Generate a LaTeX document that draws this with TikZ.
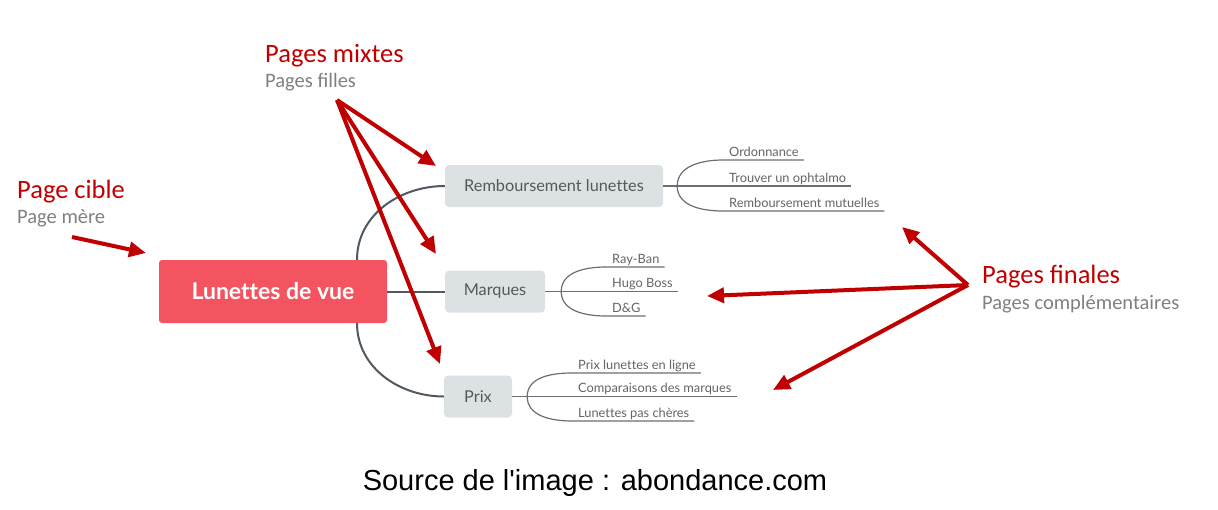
\documentclass[tikz,border=0pt]{standalone}
\usepackage{fontspec}
\setmainfont{Carlito}
\newfontfamily\mmfont{Lato}[Ligatures=NoCommon]
\newfontfamily\capfont{Liberation Sans}
\usetikzlibrary{arrows.meta,calc}
\definecolor{annred}{RGB}{192,0,0}
\definecolor{anngray}{RGB}{128,128,128}
\definecolor{corefill}{RGB}{244,84,95}
\definecolor{boxfill}{RGB}{220,226,228}
\definecolor{boxtext}{RGB}{88,88,88}
\definecolor{linecol}{RGB}{80,88,96}
\definecolor{subcol}{RGB}{105,110,116}
\definecolor{subtext}{RGB}{100,100,100}
\tikzset{
  ann/.style={anchor=base west,inner sep=0pt,text=annred,font=\fontsize{26.5}{30}\selectfont},
  annsub/.style={anchor=base west,inner sep=0pt,text=anngray,font=\fontsize{20.5}{24}\selectfont},
  redarrow/.style={draw=annred,line width=4pt,-{Triangle[length=17pt,width=15pt]}},
  core/.style={fill=corefill,rounded corners=3pt,minimum width=228pt,minimum height=63pt,text=white,font=\mmfont\bfseries\fontsize{23}{27}\selectfont},
  topic/.style={fill=boxfill,rounded corners=4pt,minimum height=42pt,text=boxtext,font=\mmfont\fontsize{16.3}{20}\selectfont},
  leaf/.style={anchor=base west,inner sep=0pt,text=subtext,font=\mmfont\fontsize{12.8}{15}\selectfont},
  mainline/.style={draw=linecol,line width=2pt},
  subline/.style={draw=subcol,line width=1.2pt},
}
\begin{document}
\begin{tikzpicture}[x=1pt,y=1pt]
\useasboundingbox (0,0) rectangle (1218,-509);

% annotations
\node[ann] (pm) at (265,-62) {Pages mixtes};
\node[annsub] (pfi) at (265,-87) {Pages filles};
\node[ann] (pc) at (17,-198) {Page cible};
\node[annsub] (pme) at (17,-223) {Page mère};
\node[ann] (pfin) at (982,-283) {Pages finales};
\node[annsub] (pcomp) at (982,-309) {Pages complémentaires};

% mind map
\node[core] (core) at (273,-291.5) {Lunettes de vue};
\node[topic,minimum width=218pt] (rem) at (554,-186) {Remboursement lunettes};
\node[topic,minimum width=100pt] (marq) at (495,-291.5) {Marques};
\node[topic,minimum width=68pt] (prix) at (478,-396.5) {Prix};

\draw[mainline] ([xshift=84pt]core.north) to[out=90,in=180] (rem.west);
\draw[mainline] (core.east) -- (marq.west);
\draw[mainline] ([xshift=84pt]core.south) to[out=-90,in=180] (prix.west);

% leaves of Remboursement lunettes
\node[leaf] (r1) at (729,-156) {Ordonnance};
\node[leaf] (r2) at (729,-182) {Trouver un ophtalmo};
\node[leaf] (r3) at (729,-207) {Remboursement mutuelles};
\coordinate (br) at ([xshift=14pt]rem.east);
\draw[subline] (rem.east) -- ($(r2.base east)+(5,-4)$);
\draw[subline] (br) to[out=90,in=180] ($(r1.base west)+(-6,-4)$) -- ($(r1.base east)+(5,-4)$);
\draw[subline] (br) to[out=-90,in=180] ($(r3.base west)+(-6,-4)$) -- ($(r3.base east)+(5,-4)$);

% leaves of Marques
\node[leaf] (m1) at (612,-263) {Ray-Ban};
\node[leaf] (m2) at (612,-287.5) {Hugo Boss};
\node[leaf] (m3) at (612,-312) {D\&G};
\coordinate (bm) at ([xshift=16pt]marq.east);
\draw[subline] (marq.east) -- ($(m2.base east)+(5,-4)$);
\draw[subline] (bm) to[out=90,in=180] ($(m1.base west)+(-6,-4)$) -- ($(m1.base east)+(5,-4)$);
\draw[subline] (bm) to[out=-90,in=180] ($(m3.base west)+(-6,-4)$) -- ($(m3.base east)+(5,-4)$);

% leaves of Prix
\node[leaf] (p1) at (578,-369) {Prix lunettes en ligne};
\node[leaf] (p2) at (578,-392.5) {Comparaisons des marques};
\node[leaf] (p3) at (578,-417) {Lunettes pas chères};
\coordinate (bp) at ([xshift=15pt]prix.east);
\draw[subline] (prix.east) -- ($(p2.base east)+(5,-4)$);
\draw[subline] (bp) to[out=90,in=180] ($(p1.base west)+(-6,-4)$) -- ($(p1.base east)+(5,-4)$);
\draw[subline] (bp) to[out=-90,in=180] ($(p3.base west)+(-6,-4)$) -- ($(p3.base east)+(5,-4)$);

% red arrows
\coordinate (mixsrc) at (337,-100);
\coordinate (mix1) at (436,-166);
\coordinate (mix2) at (436,-254);
\coordinate (mix3) at (440,-364);
\draw[redarrow] (mixsrc) -- (mix1);
\draw[redarrow] (mixsrc) -- (mix2);
\draw[redarrow] (mixsrc) -- (mix3);

\coordinate (cibsrc) at (72,-237);
\coordinate (cibdst) at (146,-253);
\draw[redarrow] (cibsrc) -- (cibdst);

\coordinate (finsrc) at (968,-285);
\coordinate (fin1) at (902,-227);
\coordinate (fin2) at (707,-296);
\coordinate (fin3) at (773,-390);
\draw[redarrow] (finsrc) -- (fin1);
\draw[redarrow] (finsrc) -- (fin2);
\draw[redarrow] (finsrc) -- (fin3);

% caption
\node[anchor=base,inner sep=0pt,font=\capfont\fontsize{29}{34}\selectfont] (cap) at (595,-490) {Source de l'image : abondance.com};
\end{tikzpicture}
\end{document}
